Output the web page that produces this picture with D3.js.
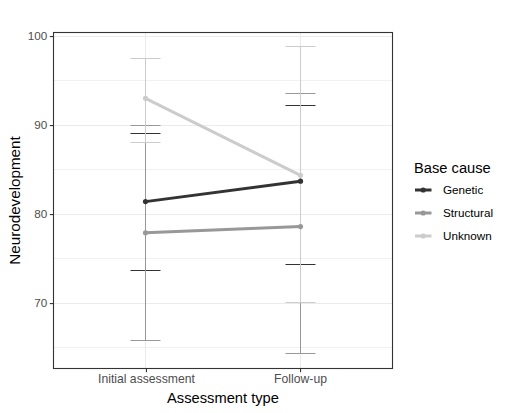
<!DOCTYPE html>
<html><head><meta charset="utf-8">
<script src="https://cdn.jsdelivr.net/npm/d3@7"></script>
<style>body{margin:0;background:#fff}svg{display:block;font-family:"Liberation Sans",Arial,sans-serif}</style>
</head><body><svg id="c" width="511" height="413"></svg>
<script>
const assessments = ["Initial assessment", "Follow-up"];
const causes = ["Genetic", "Structural", "Unknown"];
const colors = ["#333333", "#989898", "#cccccc"];
const meanGenetic = [81.4, 83.7];
const meanStructural = [77.9, 78.6];
const meanUnknown = [93.0, 84.35];
const lowGenetic = [73.7, 74.3];
const highGenetic = [89.1, 92.2];
const lowStructural = [65.8, 64.3];
const highStructural = [90.0, 93.6];
const lowUnknown = [88.0, 70.05];
const highUnknown = [97.5, 98.8];
const yTicks = [70, 80, 90, 100];
const yMinor = [65, 75, 85, 95];

const series = [
  {name: causes[0], mean: meanGenetic, low: lowGenetic, high: highGenetic, color: colors[0]},
  {name: causes[1], mean: meanStructural, low: lowStructural, high: highStructural, color: colors[1]},
  {name: causes[2], mean: meanUnknown, low: lowUnknown, high: highUnknown, color: colors[2]}
];

const svg = d3.select("#c");
const L = 53.5, R = 392.5, T = 32.5, B = 368.5;
const xpos = d3.scaleLinear().domain([0.4, 2.6]).range([L, R]);
const snap = v => Math.floor(v) + 0.5;
const xp = a => snap(xpos(assessments.indexOf(a) + 1));
const y = d3.scaleLinear().domain([62.65, 100.4]).range([B, T]);

const g = svg.append("g");
// grid
g.selectAll(".ymin").data(yMinor).join("line")
  .attr("x1", L).attr("x2", R).attr("y1", d => snap(y(d))).attr("y2", d => snap(y(d)))
  .attr("stroke", "#ebebeb").attr("stroke-width", 0.7);
g.selectAll(".ymaj").data(yTicks).join("line")
  .attr("x1", L).attr("x2", R).attr("y1", d => snap(y(d))).attr("y2", d => snap(y(d)))
  .attr("stroke", "#ebebeb").attr("stroke-width", 1.1);
g.selectAll(".xmaj").data(assessments).join("line")
  .attr("x1", d => xp(d)).attr("x2", d => xp(d)).attr("y1", T).attr("y2", B)
  .attr("stroke", "#ebebeb").attr("stroke-width", 1.1);

const capHalf = Math.round(xpos(1.1) - xpos(1));
// error bars
series.forEach(s => {
  const eg = g.append("g").attr("stroke", s.color).attr("stroke-width", 1).attr("fill", "none");
  assessments.forEach((a, i) => {
    const cx = xp(a);
    const yl = snap(y(s.low[i])), yh = snap(y(s.high[i]));
    eg.append("line").attr("x1", cx).attr("x2", cx).attr("y1", yl).attr("y2", yh);
    eg.append("line").attr("x1", cx - capHalf).attr("x2", cx + capHalf).attr("y1", yl).attr("y2", yl);
    eg.append("line").attr("x1", cx - capHalf).attr("x2", cx + capHalf).attr("y1", yh).attr("y2", yh);
  });
});
// lines and points
const line = d3.line().x((d, i) => xp(assessments[i])).y(d => y(d));
series.forEach(s => {
  g.append("path").attr("d", line(s.mean)).attr("stroke", s.color).attr("stroke-width", 3).attr("fill", "none");
  g.selectAll(null).data(s.mean).join("circle")
    .attr("cx", (d, i) => xp(assessments[i])).attr("cy", d => y(d)).attr("r", 2.6).attr("fill", s.color);
});

// border
svg.append("rect").attr("x", L).attr("y", T).attr("width", R - L).attr("height", B - T)
  .attr("fill", "none").attr("stroke", "#333333").attr("stroke-width", 1.1);

// axes
const ya = svg.append("g").attr("transform", `translate(${L},0)`)
  .call(d3.axisLeft(y).tickValues(yTicks).tickSize(3.7).tickPadding(2.5).tickFormat(d3.format("d")));
ya.select(".domain").remove();
ya.selectAll("line").attr("stroke", "#333333").attr("stroke-width", 1.1);
ya.selectAll("text").attr("fill", "#4d4d4d").style("font-size", "11.7px").style("font-family", "Liberation Sans, Arial, sans-serif");

const xa = svg.append("g").attr("transform", `translate(0,${B})`)
  .call(d3.axisBottom(xpos).tickValues([1, 2]).tickSize(3.7).tickPadding(2.5).tickFormat(d => assessments[d - 1]));
xa.select(".domain").remove();
xa.selectAll("line").attr("stroke", "#333333").attr("stroke-width", 1.1);
xa.selectAll("text").attr("fill", "#4d4d4d").style("font-size", "12.2px").style("font-family", "Liberation Sans, Arial, sans-serif");

svg.append("text").attr("x", (L + R) / 2).attr("y", 403).attr("text-anchor", "middle")
  .style("font-size", "14.7px").attr("fill", "#000").text("Assessment type");
svg.append("text").attr("transform", `translate(19.5,${(T + B) / 2}) rotate(-90)`).attr("text-anchor", "middle")
  .style("font-size", "15.2px").attr("fill", "#000").text("Neurodevelopment");

// legend
const lg = svg.append("g");
lg.append("text").attr("x", 414).attr("y", 172.5).style("font-size", "14.7px").attr("fill", "#000").text("Base cause");
series.forEach((s, i) => {
  const cy = 190 + i * 23;
  lg.append("line").attr("x1", 415).attr("x2", 431.5).attr("y1", cy).attr("y2", cy).attr("stroke", s.color).attr("stroke-width", 3);
  lg.append("circle").attr("cx", 423.2).attr("cy", cy).attr("r", 2.6).attr("fill", s.color);
  lg.append("text").attr("x", 443).attr("y", cy + 4.2).style("font-size", "11.7px").attr("fill", "#000").text(s.name);
});
</script></body></html>
